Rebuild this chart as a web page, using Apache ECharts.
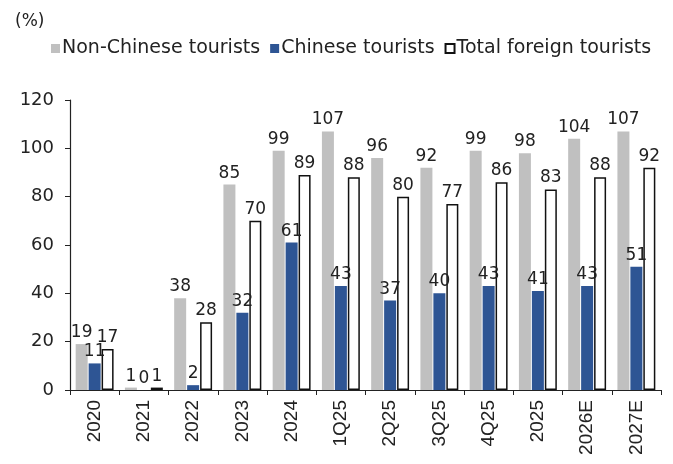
<!DOCTYPE html>
<html><head><meta charset="utf-8">
<script src="https://cdn.jsdelivr.net/npm/echarts@6/dist/echarts.min.js"></script>
<style>html,body{margin:0;padding:0;background:#fff}#c{width:673px;height:464px}</style>
</head><body><div id="c"></div>
<script>
const categories = ['2020','2021','2022','2023','2024','1Q25','2Q25','3Q25','4Q25','2025','2026E','2027E'];
const nonChinese = [19,1,38,85,99,107,96,92,99,98,104,107];
const chinese = [11,0,2,32,61,43,37,40,43,41,43,51];
const totalForeign = [17,1,28,70,89,88,80,77,86,83,88,92];
const yTicks = {min:0,max:120,interval:20};

const wide = 'DejaVu Sans, sans-serif';
const narrow = 'Liberation Sans, Arial, sans-serif';
const lbl = {show:true,position:'top',distance:3,color:'#222',fontSize:17,fontFamily:wide};
const chart = echarts.init(document.getElementById('c'));
chart.setOption({
  animation:false,
  title:{text:'(%)',left:10,top:8,textStyle:{fontSize:17,fontWeight:'normal',color:'#222',fontFamily:wide}},
  legend:{top:34,left:46,itemWidth:9,itemHeight:9,itemGap:10,
    textStyle:{fontSize:19,color:'#222',fontFamily:wide,padding:[0,0,0,-3]},
    data:[{name:'Non-Chinese tourists',icon:'rect'},{name:'Chinese tourists',icon:'rect'},{name:'Total foreign tourists',icon:'rect'}]},
  grid:{left:70,right:12,top:100,bottom:74},
  xAxis:{type:'category',data:categories,
    axisLine:{lineStyle:{color:'#222',width:1.2}},
    axisTick:{show:true,length:5,lineStyle:{color:'#222'}},
    axisLabel:{rotate:90,fontSize:19,color:'#222',margin:10,fontFamily:narrow}},
  yAxis:{type:'value',min:yTicks.min,max:yTicks.max,interval:yTicks.interval,
    splitLine:{show:false},
    axisLine:{show:true,lineStyle:{color:'#222',width:1.2}},
    axisTick:{show:true,length:5,lineStyle:{color:'#222'}},
    axisLabel:{fontSize:18,color:'#222',margin:16,fontFamily:wide}},
  series:[
    {name:'Non-Chinese tourists',type:'bar',data:nonChinese,barWidth:12,barGap:'8%',
      itemStyle:{color:'#c0c0c0'},label:lbl},
    {name:'Chinese tourists',type:'bar',data:chinese,barWidth:12,barGap:'8%',
      itemStyle:{color:'#2e5594'},label:lbl},
    {name:'Total foreign tourists',type:'bar',data:totalForeign,barWidth:12,barGap:'8%',
      itemStyle:{color:'#fff',borderColor:'#111',borderWidth:1.5},label:lbl}
  ]
});
</script></body></html>
